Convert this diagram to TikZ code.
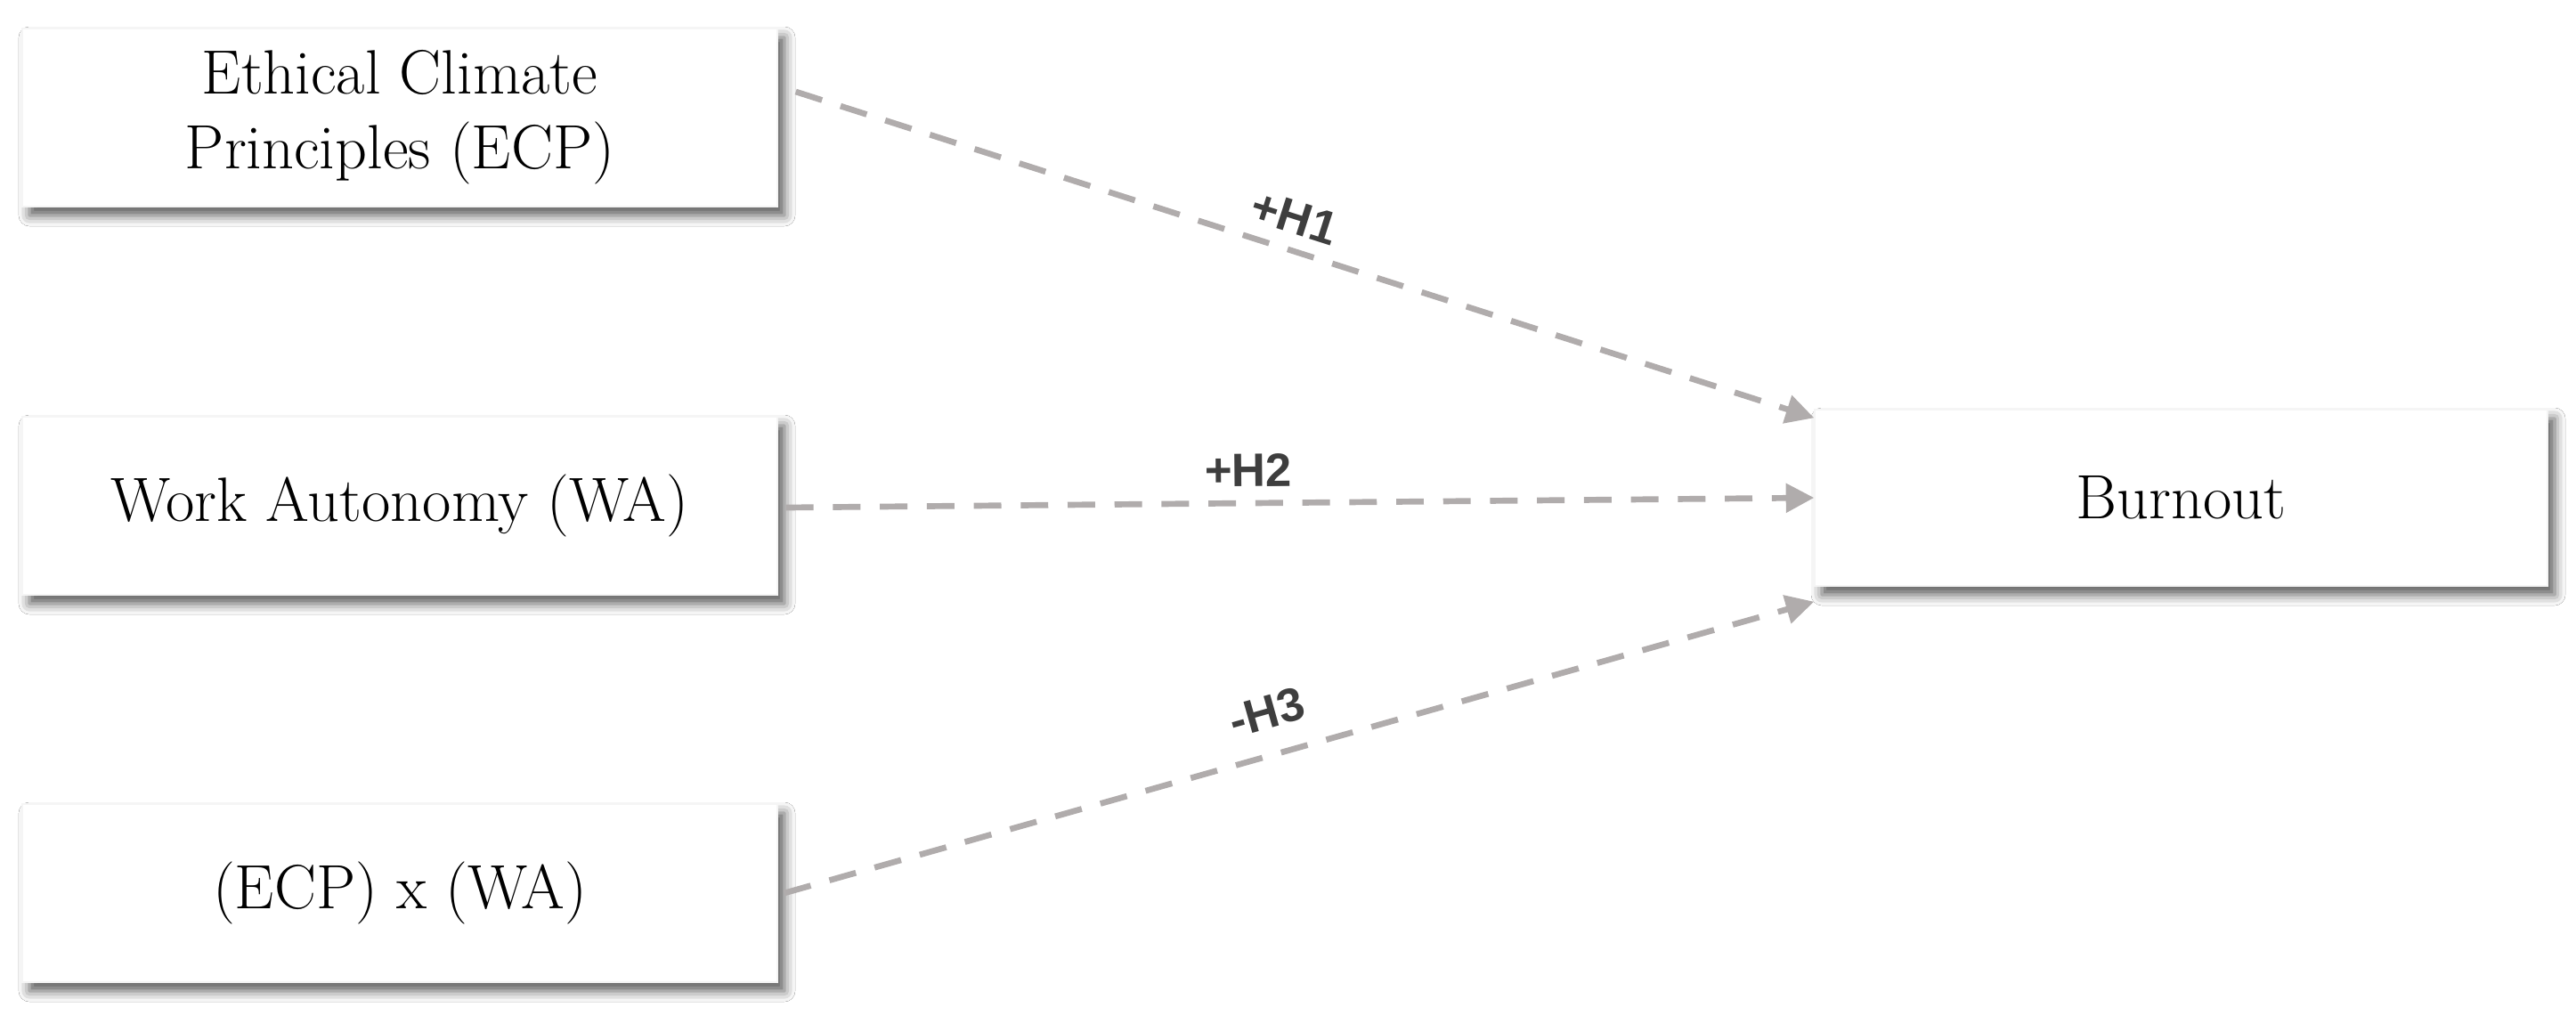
\documentclass[tikz,border=0pt]{standalone}
\usepackage{fontspec}
\usepackage{tikz,xcolor}
\usetikzlibrary{calc,arrows.meta,shadows.blur}

\newfontfamily\hypfont{Liberation Sans}
\definecolor{arrowgray}{RGB}{176,172,172}
\definecolor{labelgray}{RGB}{62,62,62}

\tikzset{
	varbox/.style={fill=white, draw=black!4, minimum width=8.48cm, minimum height=2cm, align=center,
		font=\fontsize{20}{24}\selectfont,
		blur shadow={shadow xshift=0.8mm, shadow yshift=-1mm, shadow blur radius=1.2mm, shadow opacity=65}},
	hyp/.style={arrowgray, line width=1.9pt, dash pattern=on 8.8pt off 6.2pt, -{Triangle[length=9pt,width=9pt]}},
	hyplabel/.style={text=labelgray, font=\hypfont\bfseries\fontsize{15}{17}\selectfont, sloped}
}

\begin{document}
\begin{tikzpicture}

			% Background and margins.
			\fill[white] (0,0) rectangle (28.93,-11.49);

			% Draw variable boxes.
			\node[varbox] (ecp) at (4.49,-1.32) {Ethical Climate\\Principles (ECP)};
			\node[varbox] (wa) at (4.49,-5.68) {Work Autonomy (WA)};
			\node[varbox] (inter) at (4.49,-10.03) {(ECP) x (WA)};
			\node[varbox, minimum width=8.23cm, minimum height=1.98cm] (burnout) at (24.495,-5.59) {Burnout};

			% Draw hypothesis arrows.
			\draw[hyp] ($(ecp.east)+(0.2,0.29)$) -- ($(burnout.north west)+(0,-0.1)$)
				node[hyplabel, pos=0.48, above=1pt] {+H1};
			\draw[hyp] ($(wa.east)+(0.09,-0.02)$) -- (burnout.west)
				node[hyplabel, pos=0.45, above=1pt] {+H2};
			\draw[hyp] ($(inter.east)+(0.07,0)$) -- ($(burnout.south west)+(0,-0.17)$)
				node[hyplabel, pos=0.48, above=4pt] {-H3};

\end{tikzpicture}
\end{document}
